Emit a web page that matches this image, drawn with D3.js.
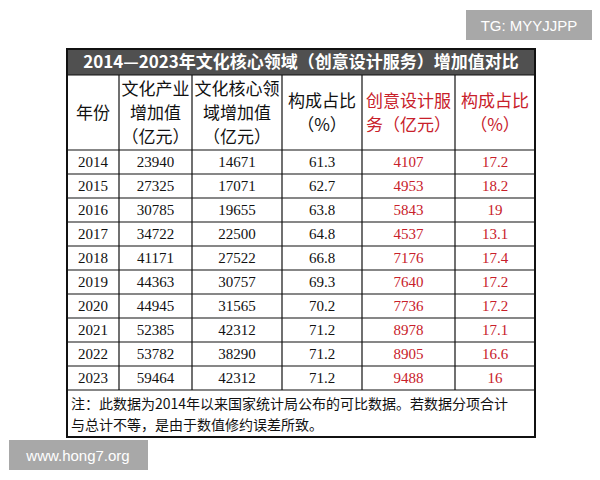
<!DOCTYPE html>
<html>
<head>
<meta charset="utf-8" />
<script src="https://cdnjs.cloudflare.com/ajax/libs/d3/7.8.5/d3.min.js"></script>
<style>
  body { margin: 0; background: #fff; }
  .num { font-family: "Liberation Serif", serif; font-size: 15px; }
  .cjk { font-family: "Noto Sans CJK SC", sans-serif; }
</style>
</head>
<body>
<script>
const years = [2014, 2015, 2016, 2017, 2018, 2019, 2020, 2021, 2022, 2023];
const industryValue = [23940, 27325, 30785, 34722, 41171, 44363, 44945, 52385, 53782, 59464];
const coreValue = [14671, 17071, 19655, 22500, 27522, 30757, 31565, 42312, 38290, 42312];
const coreShare = ["61.3", "62.7", "63.8", "64.8", "66.8", "69.3", "70.2", "71.2", "71.2", "71.2"];
const designValue = [4107, 4953, 5843, 4537, 7176, 7640, 7736, 8978, 8905, 9488];
const designShare = ["17.2", "18.2", "19", "13.1", "17.4", "17.2", "17.2", "17.1", "16.6", "16"];
const headers = [
  ["年份"],
  ["文化产业", "增加值", "（亿元）"],
  ["文化核心领", "域增加值", "（亿元）"],
  ["构成占比", "（%）"],
  ["创意设计服", "务（亿元）"],
  ["构成占比", "（%）"]
];
const title = "2014—2023年文化核心领域（创意设计服务）增加值对比";
const note = ["注：此数据为2014年以来国家统计局公布的可比数据。若数据分项合计", "与总计不等，是由于数值修约误差所致。"];

const width = 600, height = 480;
const colEdges = [67, 119, 192, 282, 362, 455, 535];
const red = "#c8202a";
const tableTop = 49, titleH = 26, headH = 75, rowH = 24;
const rowsTop = tableTop + titleH + headH;

const svg = d3.select("body").append("svg").attr("width", width).attr("height", height);

const y = d3.scaleBand().domain(years).range([rowsTop, rowsTop + rowH * years.length]);
const tableBottom = rowsTop + rowH * years.length;
const noteBottom = tableBottom + 47;

// watermark tags
svg.append("rect").attr("x", 466).attr("y", 10).attr("width", 126).attr("height", 30).attr("fill", "#a8a8a8");
svg.append("text").attr("x", 529).attr("y", 31).attr("text-anchor", "middle").attr("fill", "#fff")
  .attr("font-family", "Liberation Sans, sans-serif").attr("font-size", 15).text("TG: MYYJJPP");
svg.append("rect").attr("x", 9).attr("y", 440).attr("width", 139).attr("height", 30).attr("fill", "#a8a8a8");
svg.append("text").attr("x", 78).attr("y", 461).attr("text-anchor", "middle").attr("fill", "#fff")
  .attr("font-family", "Liberation Sans, sans-serif").attr("font-size", 15).text("www.hong7.org");

// title bar
svg.append("rect").attr("x", colEdges[0]).attr("y", tableTop).attr("width", colEdges[6] - colEdges[0]).attr("height", titleH).attr("fill", "#505050");
svg.append("text").attr("class", "cjk").attr("x", (colEdges[0] + colEdges[6]) / 2).attr("y", tableTop + 19)
  .attr("text-anchor", "middle").attr("fill", "#fff").attr("font-size", 17).attr("font-weight", "bold").text(title);

// header cells
headers.forEach((lines, i) => {
  const cx = (colEdges[i] + colEdges[i + 1]) / 2;
  const lh = 24;
  const y0 = tableTop + titleH + headH / 2 - (lines.length - 1) * lh / 2 + 6;
  lines.forEach((t, j) => {
    svg.append("text").attr("class", "cjk").attr("x", cx).attr("y", y0 + j * lh)
      .attr("text-anchor", "middle").attr("font-size", 17).attr("fill", i >= 4 ? red : "#111").text(t);
  });
});

// rows
const cols = [years, industryValue, coreValue, coreShare, designValue, designShare];
cols.forEach((vals, i) => {
  const cx = (colEdges[i] + colEdges[i + 1]) / 2;
  svg.append("g").selectAll("text").data(vals).join("text")
    .attr("class", "num").attr("x", cx).attr("y", (d, k) => y(years[k]) + rowH / 2 + 5)
    .attr("text-anchor", "middle").attr("fill", i >= 4 ? red : "#111").text(d => d);
});

// note
note.forEach((t, j) => {
  svg.append("text").attr("class", "cjk").attr("x", colEdges[0] + 4).attr("y", tableBottom + 19 + j * 21)
    .attr("font-size", 14).attr("fill", "#111").text(t);
});

// grid lines
const g = svg.append("g").attr("stroke", "#111").attr("stroke-width", 1.2);
[tableTop + titleH, ...years.map(d => y(d)), tableBottom].forEach(v =>
  g.append("line").attr("x1", colEdges[0]).attr("x2", colEdges[6]).attr("y1", v).attr("y2", v));
colEdges.slice(1, 6).forEach(v =>
  g.append("line").attr("x1", v).attr("x2", v).attr("y1", tableTop + titleH).attr("y2", tableBottom));
g.append("rect").attr("x", colEdges[0]).attr("y", tableTop).attr("width", colEdges[6] - colEdges[0])
  .attr("height", noteBottom - tableTop).attr("fill", "none").attr("stroke-width", 2);
</script>
</body>
</html>
